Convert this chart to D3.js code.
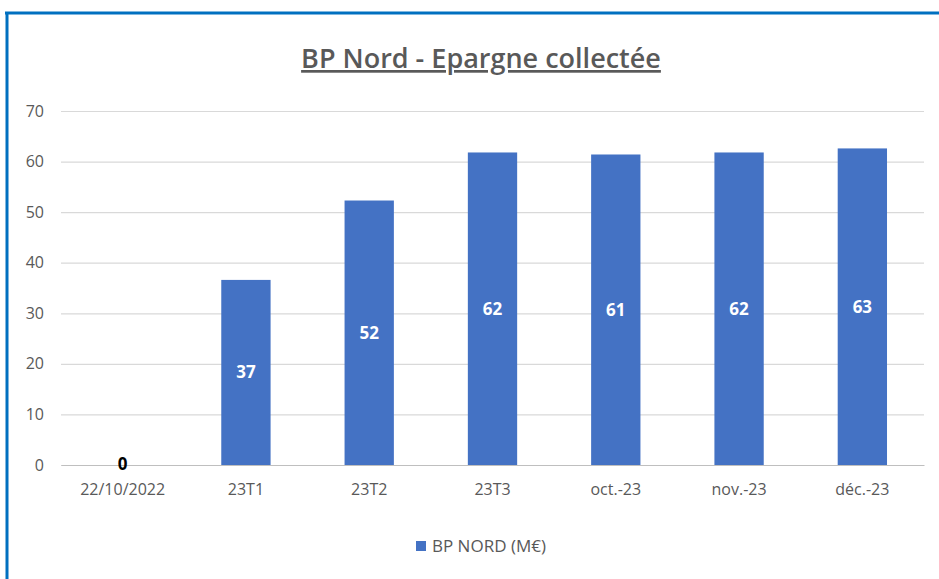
<!DOCTYPE html>
<html>
<head>
<meta charset="utf-8">
<script src="https://d3js.org/d3.v7.min.js"></script>
<style>
  body { margin: 0; background: #fff; }
  svg { display: block; font-family: "Open Sans", "Noto Sans", sans-serif; }
  .tick text { fill: #595959; font-family: "Open Sans", "Noto Sans", sans-serif; }
</style>
</head>
<body>
<svg width="939" height="579"></svg>
<script>
var categories = ["22/10/2022", "23T1", "23T2", "23T3", "oct.-23", "nov.-23", "déc.-23"];
var values = [0, 36.6, 52.3, 61.8, 61.4, 61.8, 62.6];
var yTicks = [0, 10, 20, 30, 40, 50, 60, 70];
var seriesName = "BP NORD (M€)";
var title = "BP Nord - Epargne collectée";

var data = categories.map(function(c, i) { return {cat: c, val: values[i]}; });

var svg = d3.select("svg");

// frame (blue border top and left)
svg.append("line")
    .attr("x1", 5).attr("x2", 939).attr("y1", 13).attr("y2", 13)
    .attr("stroke", "#0070C0").attr("stroke-width", 3);
svg.append("line")
    .attr("x1", 7).attr("x2", 7).attr("y1", 12).attr("y2", 579)
    .attr("stroke", "#0070C0").attr("stroke-width", 3);

var x0 = 61, x1 = 924, yTop = 111, yBot = 465;

var xScale = d3.scaleBand().domain(categories).range([x0, x1]).paddingInner(0.6).paddingOuter(0.3);
var yScale = d3.scaleLinear().domain([0, 70]).range([yBot, yTop]);

// title
svg.append("text")
    .attr("x", 481)
    .attr("y", 68)
    .attr("text-anchor", "middle")
    .attr("font-size", 27)
    .attr("font-weight", 600)
    .attr("fill", "#595959")
    .attr("text-decoration", "underline")
    .text(title);

// grid + y labels
var yAxis = svg.append("g")
    .attr("transform", "translate(" + x0 + ",0)")
    .call(d3.axisLeft(yScale).tickValues(yTicks).tickSize(-(x1 - x0)).tickPadding(17));
yAxis.select(".domain").remove();
yAxis.selectAll(".tick line").attr("stroke", "#d9d9d9").attr("stroke-width", 1.2);
yAxis.selectAll(".tick text").attr("font-size", 16);

// bars
svg.selectAll(".bar")
    .data(data)
    .enter()
    .append("rect")
    .attr("class", "bar")
    .attr("x", function(d) { return xScale(d.cat); })
    .attr("y", function(d) { return yScale(d.val); })
    .attr("width", xScale.bandwidth())
    .attr("height", function(d) { return yBot - yScale(d.val); })
    .attr("fill", "#4472C4");

// x axis
var xAxis = svg.append("g")
    .attr("transform", "translate(0," + yBot + ")")
    .call(d3.axisBottom(xScale).tickSize(0).tickPadding(19));
xAxis.select(".domain").attr("stroke", "#bfbfbf").attr("stroke-width", 1.2);
xAxis.selectAll(".tick text").attr("font-size", 16);

// value labels
svg.selectAll(".lbl")
    .data(data)
    .enter()
    .append("text")
    .attr("class", "lbl")
    .attr("x", function(d) { return xScale(d.cat) + xScale.bandwidth() / 2; })
    .attr("y", function(d) {
        return d.val > 0 ? (yScale(d.val) + yBot) / 2 : yBot + 5;
    })
    .attr("dy", function(d) { return d.val > 0 ? "0.35em" : "0"; })
    .attr("text-anchor", "middle")
    .attr("font-size", 17)
    .attr("font-weight", "bold")
    .attr("fill", function(d) { return d.val > 0 ? "#fff" : "#000"; })
    .text(function(d) { return Math.round(d.val); });

// legend
var lg = svg.append("g").attr("transform", "translate(416,541)");
lg.append("rect").attr("width", 10).attr("height", 10).attr("fill", "#4472C4");
lg.append("text")
    .attr("x", 16).attr("y", 11)
    .attr("font-size", 17)
    .attr("fill", "#595959")
    .text(seriesName);
</script>
</body>
</html>
